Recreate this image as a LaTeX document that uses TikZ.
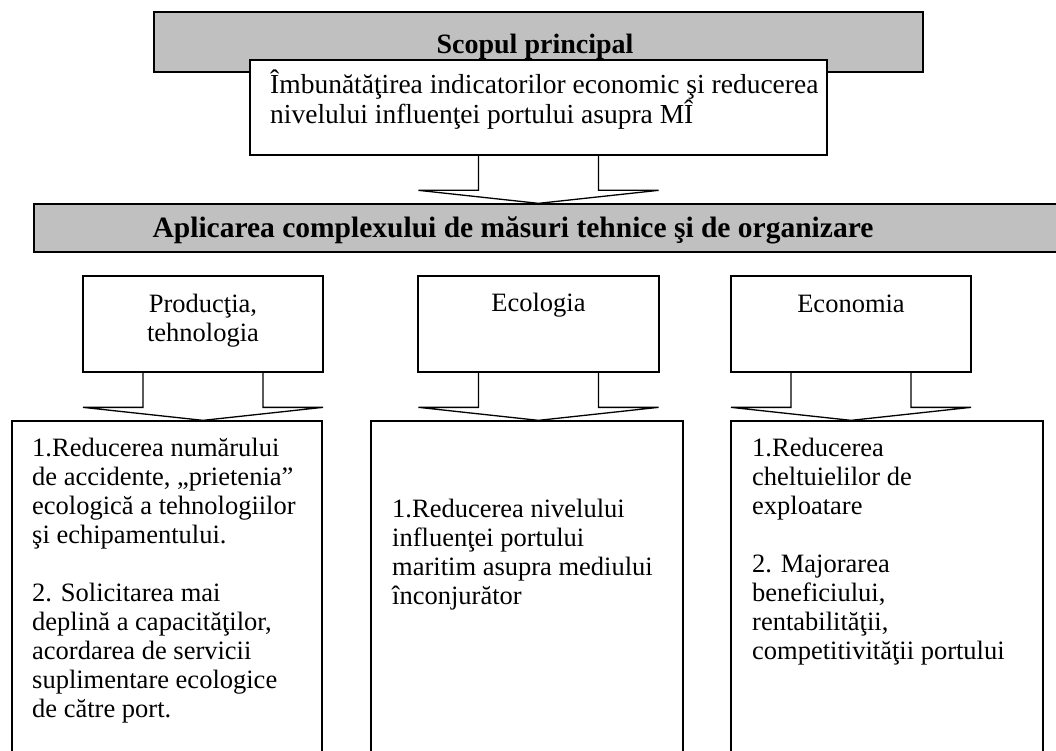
\documentclass[tikz,border=0pt]{standalone}
\usepackage{fontspec}
\setmainfont{Liberation Serif}
\usetikzlibrary{calc}
\definecolor{bannergray}{HTML}{C0C0C0}
\newcommand\blockarrow[2]{%
  \draw[conn] ($(#1.south)+(-60,0)$) -- ($(#1.south |- #2.north)+(-60,-13)$)
    -- ($(#1.south |- #2.north)+(-120,-13)$) -- (#1.south |- #2.north)
    -- ($(#1.south |- #2.north)+(120,-13)$) -- ($(#1.south |- #2.north)+(60,-13)$)
    -- ($(#1.south)+(60,0)$);}
\begin{document}
\begin{tikzpicture}[x=1pt,y=-1pt,
  every node/.style={font=\fontsize{26.5}{29}\selectfont},
  box/.style={draw=black, line width=1.3pt, fill=white, inner sep=0pt},
  banner/.style={box, fill=bannergray},
  conn/.style={draw=black, line width=1.3pt, line join=miter},
  txt/.style={inner sep=0pt, align=left, anchor=base west},
  ctxt/.style={inner sep=0pt, align=center, anchor=base},
  btxt/.style={ctxt, font=\fontsize{28}{30}\selectfont\bfseries}]
\useasboundingbox (0,0) rectangle (1056,751);
% boxes
\node[banner, minimum width=769pt, minimum height=60pt] (scop) at (538.5,42) {};
\node[box, minimum width=577pt, minimum height=95pt] (goal) at (538.5,107.5) {};
\node[banner, minimum width=1036pt, minimum height=48pt] (aplic) at (552,228) {};
\node[box, minimum width=240pt, minimum height=96pt] (prod) at (203,324) {};
\node[box, minimum width=241pt, minimum height=96pt] (eco) at (538.5,324) {};
\node[box, minimum width=240pt, minimum height=96pt] (econ) at (851,324) {};
\node[box, minimum width=310pt, minimum height=350pt] (b1) at (167,596) {};
\node[box, minimum width=312pt, minimum height=350pt] (b2) at (527,596) {};
\node[box, minimum width=312pt, minimum height=350pt] (b3) at (887,596) {};
% block arrows
\blockarrow{goal}{aplic}
\blockarrow{prod}{b1}
\blockarrow{eco}{b2}
\blockarrow{econ}{b3}
% texts (base anchor = baseline of the last line)
\node[btxt] (t-scop) at (535,54) {Scopul principal};
\node[txt, font=\fontsize{27.5}{29}\selectfont] (t-goal) at (270,124) {Îmbunătăţirea indicatorilor economic şi reducerea\\nivelului influenţei portului asupra MÎ};
\node[btxt, font=\fontsize{29.5}{30}\selectfont\bfseries] (t-aplic) at (513,237) {Aplicarea complexului de măsuri tehnice şi de organizare};
\node[ctxt] (t-prod) at (203,341) {Producţia,\\tehnologia};
\node[ctxt] (t-eco) at (538.5,311) {Ecologia};
\node[ctxt] (t-econ) at (851,312) {Economia};
\node[txt] (t-b1) at (32,717) {1.Reducerea numărului\\de accidente, „prietenia”\\ecologică a tehnologiilor\\şi echipamentului.\\[29pt]2. Solicitarea mai\\deplină a capacităţilor,\\acordarea de servicii\\suplimentare ecologice\\de către port.};
\node[txt] (t-b2) at (392,604) {1.Reducerea nivelului\\influenţei portului\\maritim asupra mediului\\înconjurător};
\node[txt] (t-b3) at (752,659) {1.Reducerea\\cheltuielilor de\\exploatare\\[29pt]2. Majorarea\\beneficiului,\\rentabilităţii,\\competitivităţii portului};
\end{tikzpicture}
\end{document}
